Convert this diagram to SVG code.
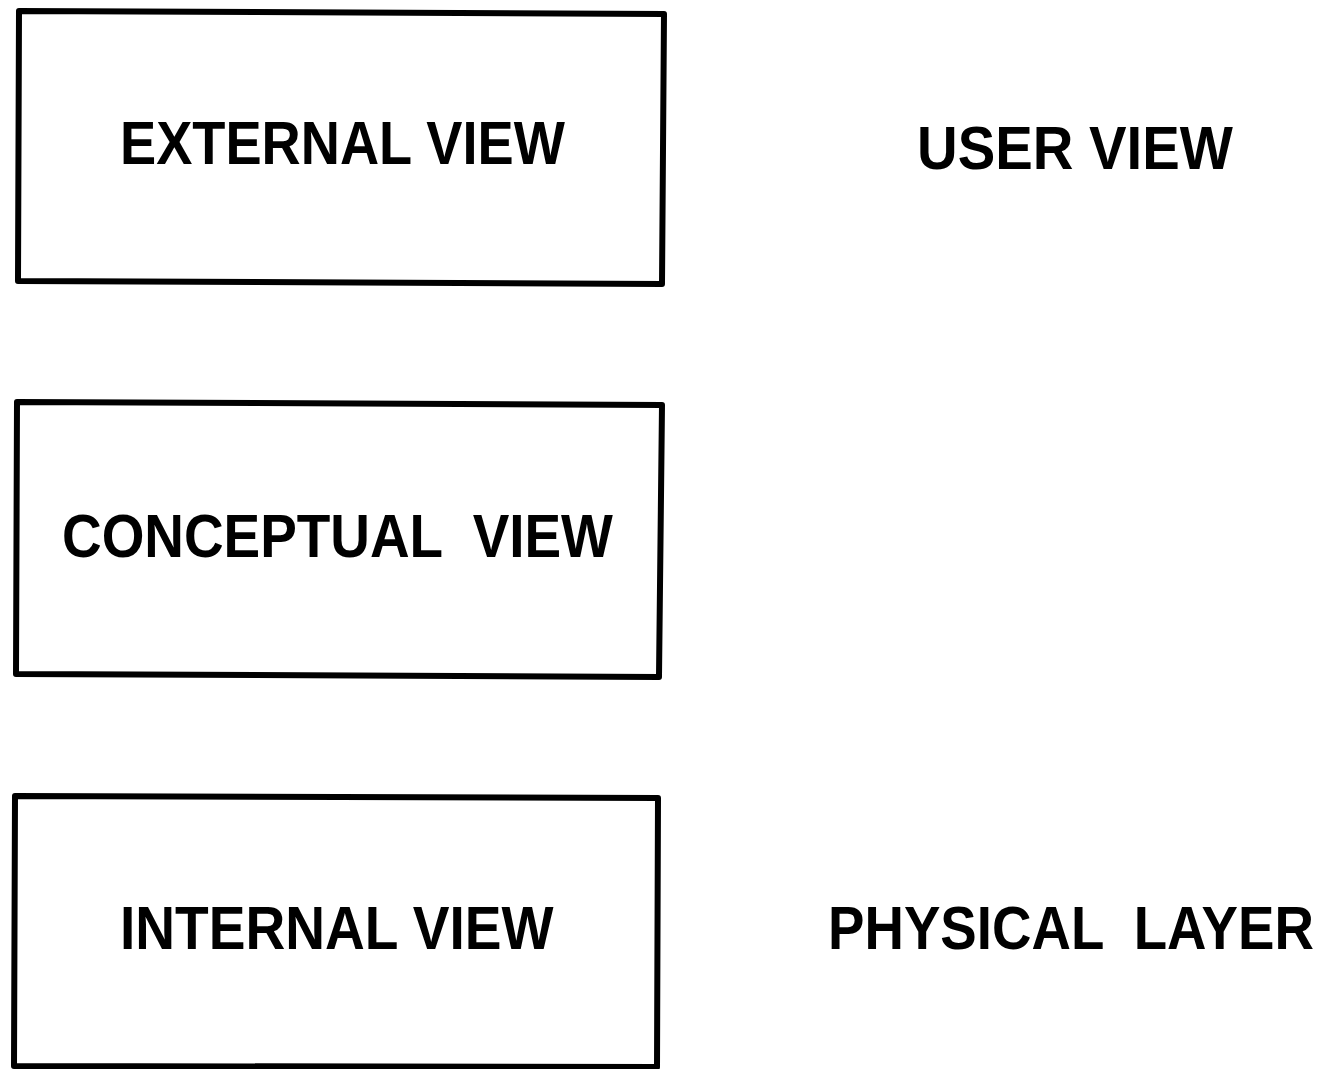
<svg xmlns="http://www.w3.org/2000/svg" width="1333" height="1069" viewBox="0 0 1333 1069">
<style>
.box{fill:none;stroke:#000;stroke-width:6;stroke-linejoin:round}
.t{font-family:"Liberation Sans",Arial,sans-serif;font-weight:bold;font-size:61px;fill:#000;white-space:pre}
</style>
<rect width="1333" height="1069" fill="#fff"/>
<g id="external-view">
<path class="box" d="M19,11 L664,14 L662,284 L18,281 Z"/>
<text class="t" transform="translate(120,164) scale(0.889,1)">EXTERNAL VIEW</text>
</g>
<g id="user-view">
<text class="t" transform="translate(917,169) scale(0.923,1)">USER VIEW</text>
</g>
<g id="conceptual-view">
<path class="box" d="M17,402 L662,405 L659,677 L16,674 Z"/>
<text class="t" transform="translate(62,557) scale(0.9,1)">CONCEPTUAL  VIEW</text>
</g>
<g id="internal-view">
<path class="box" d="M15,796 L658,798 L657,1067 L14,1066 Z"/>
<text class="t" transform="translate(120,949) scale(0.903,1)">INTERNAL VIEW</text>
</g>
<g id="physical-layer">
<text class="t" transform="translate(828,949) scale(0.896,1)">PHYSICAL  LAYER</text>
</g>
<g id="connectors"></g>
</svg>
